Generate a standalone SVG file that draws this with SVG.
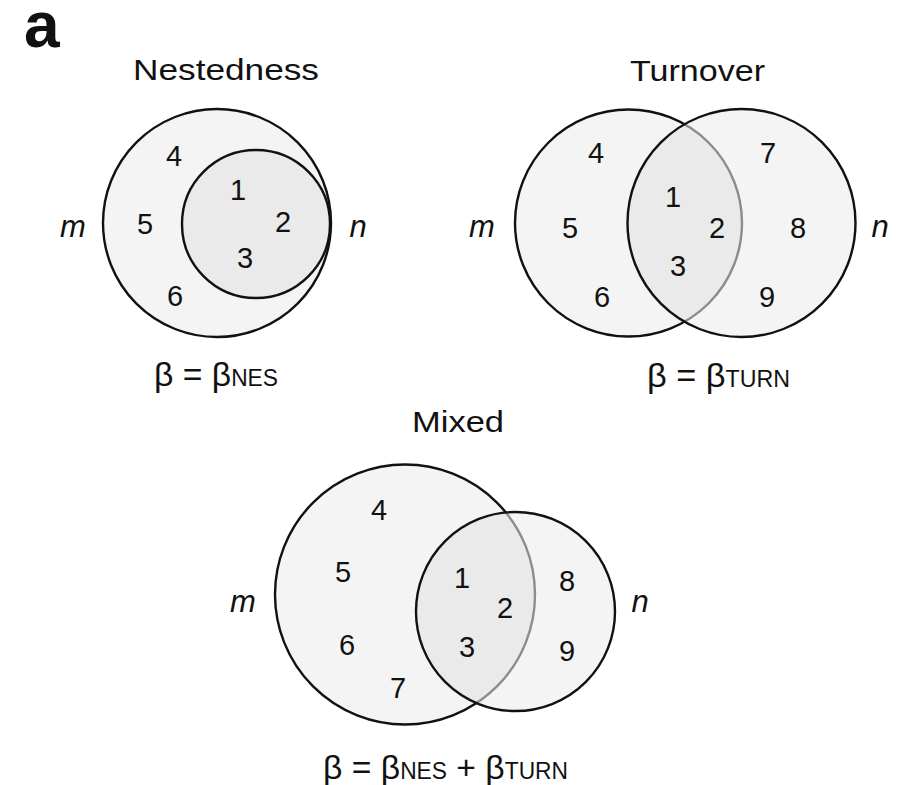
<svg xmlns="http://www.w3.org/2000/svg" width="901" height="785" viewBox="0 0 901 785">
<style>
  .fill { fill: #f4f4f4; stroke: none; }
  .ov { fill: #eaeaea; stroke: none; }
  .edge { fill: none; stroke: #111; stroke-width: 2.4; }
  .ghost { fill: none; stroke: #8c8c8c; stroke-width: 2.4; }
  text { font-family: "Liberation Sans", Arial, sans-serif; fill: #111; }
  .num { font-size: 29px; text-anchor: middle; }
  .title { font-size: 30px; }
  .set { font-size: 31px; font-style: italic; text-anchor: middle; }
  .eq { font-size: 34px; }
  .sub { font-size: 23px; }
</style>
<defs>
  <clipPath id="cN"><circle cx="256" cy="224" r="74"/></clipPath>
  <clipPath id="cT"><circle cx="741.5" cy="223" r="114"/></clipPath>
  <clipPath id="cM"><circle cx="515.5" cy="611.5" r="99.5"/></clipPath>
</defs>
<rect width="901" height="785" fill="#ffffff"/>
<text x="24" y="47" style="font-size:64px;font-weight:bold">a</text>

<g id="nestedness">
  <text class="title" x="133" y="80" textLength="186" lengthAdjust="spacingAndGlyphs">Nestedness</text>
  <g id="nes-m">
    <circle class="fill" cx="217" cy="223" r="114"/>
    <circle class="edge" cx="217" cy="223" r="114"/>
  </g>
  <g id="nes-n">
    <circle class="fill" cx="256" cy="224" r="74"/>
    <circle class="ov" cx="217" cy="223" r="114" clip-path="url(#cN)"/>
    <circle class="ghost" cx="217" cy="223" r="114" clip-path="url(#cN)"/>
    <circle class="edge" cx="256" cy="224" r="74"/>
  </g>
  <text class="num" x="174" y="166">4</text>
  <text class="num" x="238" y="200">1</text>
  <text class="num" x="145" y="234">5</text>
  <text class="num" x="283" y="232">2</text>
  <text class="num" x="245" y="268">3</text>
  <text class="num" x="175" y="306">6</text>
  <text class="set" x="73" y="237">m</text>
  <text class="set" x="358" y="237">n</text>
  <text class="eq" x="154" y="386" textLength="124" lengthAdjust="spacingAndGlyphs">β = β<tspan class="sub">NES</tspan></text>
</g>

<g id="turnover">
  <text class="title" x="630" y="81" textLength="135" lengthAdjust="spacingAndGlyphs">Turnover</text>
  <g id="turn-m">
    <circle class="fill" cx="628.5" cy="223" r="113.5"/>
    <circle class="edge" cx="628.5" cy="223" r="113.5"/>
  </g>
  <g id="turn-n">
    <circle class="fill" cx="741.5" cy="223" r="114"/>
    <circle class="ov" cx="628.5" cy="223" r="113.5" clip-path="url(#cT)"/>
    <circle class="ghost" cx="628.5" cy="223" r="113.5" clip-path="url(#cT)"/>
    <circle class="edge" cx="741.5" cy="223" r="114"/>
  </g>
  <text class="num" x="596" y="163">4</text>
  <text class="num" x="768" y="163">7</text>
  <text class="num" x="673" y="207">1</text>
  <text class="num" x="570" y="238">5</text>
  <text class="num" x="717" y="238">2</text>
  <text class="num" x="798" y="238">8</text>
  <text class="num" x="678" y="276">3</text>
  <text class="num" x="602" y="307">6</text>
  <text class="num" x="767" y="307">9</text>
  <text class="set" x="482" y="237">m</text>
  <text class="set" x="880" y="237">n</text>
  <text class="eq" x="647" y="387" textLength="143" lengthAdjust="spacingAndGlyphs">β = β<tspan class="sub">TURN</tspan></text>
</g>

<g id="mixed">
  <text class="title" x="412" y="432" textLength="92" lengthAdjust="spacingAndGlyphs">Mixed</text>
  <g id="mix-m">
    <circle class="fill" cx="405" cy="594.5" r="130"/>
    <circle class="edge" cx="405" cy="594.5" r="130"/>
  </g>
  <g id="mix-n">
    <circle class="fill" cx="515.5" cy="611.5" r="99.5"/>
    <circle class="ov" cx="405" cy="594.5" r="130" clip-path="url(#cM)"/>
    <circle class="ghost" cx="405" cy="594.5" r="130" clip-path="url(#cM)"/>
    <circle class="edge" cx="515.5" cy="611.5" r="99.5"/>
  </g>
  <text class="num" x="379" y="520">4</text>
  <text class="num" x="343" y="582">5</text>
  <text class="num" x="462" y="588">1</text>
  <text class="num" x="567" y="591">8</text>
  <text class="num" x="505" y="618">2</text>
  <text class="num" x="347" y="655">6</text>
  <text class="num" x="467" y="657">3</text>
  <text class="num" x="567" y="661">9</text>
  <text class="num" x="398" y="698">7</text>
  <text class="set" x="243" y="612">m</text>
  <text class="set" x="640" y="612">n</text>
  <text class="eq" x="323" y="779" textLength="245" lengthAdjust="spacingAndGlyphs">β = β<tspan class="sub">NES</tspan> + β<tspan class="sub">TURN</tspan></text>
</g>
<g id="connectors"/>
</svg>
